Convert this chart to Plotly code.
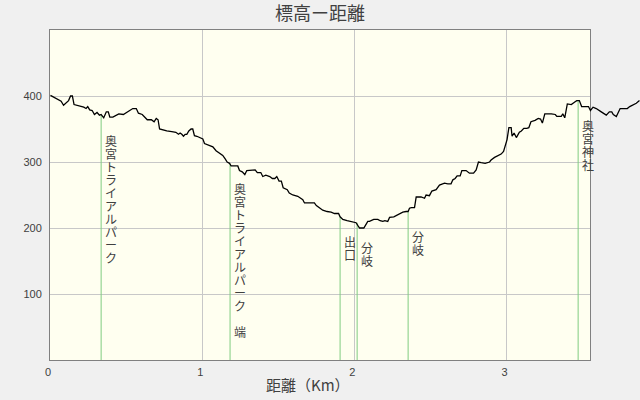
import plotly.graph_objects as go

# ---- data ----
distance_km = [0.003, 0.030, 0.051, 0.073, 0.089, 0.106, 0.122, 0.135, 0.147, 0.158,
               0.178, 0.196, 0.222, 0.237, 0.248, 0.261, 0.277, 0.292, 0.309, 0.325,
               0.336, 0.353, 0.370, 0.383, 0.393, 0.413, 0.432, 0.452, 0.482, 0.498,
               0.514, 0.531, 0.544, 0.567, 0.581, 0.606, 0.626, 0.639, 0.666, 0.684,
               0.698, 0.710, 0.720, 0.744, 0.767, 0.800, 0.827, 0.844, 0.855, 0.866,
               0.877, 0.888, 0.899, 0.912, 0.927, 0.938, 0.949, 0.965, 0.982, 1.004,
               1.015, 1.037, 1.070, 1.091, 1.114, 1.135, 1.150, 1.164, 1.180, 1.190,
               1.234, 1.245, 1.263, 1.280, 1.293, 1.348, 1.362, 1.385, 1.398, 1.418,
               1.444, 1.461, 1.477, 1.490, 1.505, 1.520, 1.532, 1.559, 1.572, 1.595,
               1.628, 1.645, 1.661, 1.672, 1.737, 1.750, 1.771, 1.792, 1.821, 1.847,
               1.869, 1.896, 1.906, 1.924, 1.952, 1.974, 1.989, 2.011, 2.022, 2.034,
               2.062, 2.077, 2.088, 2.099, 2.127, 2.154, 2.169, 2.187, 2.200, 2.219,
               2.231, 2.259, 2.274, 2.296, 2.318, 2.340, 2.353, 2.362, 2.374, 2.395,
               2.406, 2.438, 2.461, 2.471, 2.493, 2.509, 2.537, 2.559, 2.592, 2.614,
               2.635, 2.647, 2.662, 2.675, 2.695, 2.706, 2.734, 2.756, 2.783, 2.800,
               2.815, 2.833, 2.859, 2.888, 2.898, 2.921, 2.942, 2.964, 2.980, 2.990,
               3.003, 3.015, 3.030, 3.036, 3.049, 3.064, 3.084, 3.097, 3.113, 3.133,
               3.146, 3.160, 3.187, 3.208, 3.223, 3.235, 3.251, 3.294, 3.320, 3.330,
               3.359, 3.369, 3.382, 3.399, 3.425, 3.448, 3.461, 3.478, 3.493, 3.538,
               3.551, 3.568, 3.589, 3.622, 3.655, 3.675, 3.691, 3.701, 3.721, 3.746,
               3.793, 3.809, 3.827, 3.852, 3.873]

elevation_m = [401, 398, 395, 392, 386, 389, 393, 400, 400, 387,
               386, 385, 383, 381, 384, 379, 378, 372, 375, 371,
               372, 367, 376, 376, 368, 368, 370, 373, 372, 374,
               376, 379, 381, 381, 374, 372, 367, 364, 364, 361,
               366, 364, 350, 348, 347, 346, 345, 342, 344, 342,
               339, 342, 342, 347, 350, 350, 340, 339, 337, 335,
               328, 326, 323, 317, 313, 310, 305, 300, 298, 294,
               294, 287, 285, 281, 287, 288, 284, 284, 278, 280,
               278, 275, 275, 278, 271, 271, 261, 258, 253, 250,
               248, 245, 243, 238, 238, 234, 230, 227, 225, 224,
               222, 222, 217, 213, 211, 210, 210, 208, 204, 200,
               200, 205, 210, 210, 213, 213, 211, 210, 211, 210,
               216, 217, 219, 221, 224, 225, 225, 230, 231, 231,
               247, 247, 245, 250, 249, 256, 258, 265, 268, 267,
               267, 273, 275, 279, 279, 287, 287, 283, 283, 288,
               300, 299, 298, 300, 303, 307, 310, 312, 316, 326,
               334, 352, 352, 339, 344, 337, 345, 347, 351, 351,
               352, 361, 363, 366, 365, 359, 373, 373, 372, 369,
               369, 373, 367, 388, 387, 391, 393, 393, 384, 384,
               378, 383, 381, 376, 371, 376, 376, 372, 369, 381,
               381, 384, 386, 389, 393]

marker_km = [0.336, 1.183, 1.906, 2.018, 2.353, 3.470]
marker_elev = [370, 297, 217, 208, 225, 393]
marker_labels = ["奥宮トライアルパーク", "奥宮トライアルパーク　端", "出口", "分岐", "分岐", "奥宮神社"]

x_ticks = [0, 1, 2, 3]
y_ticks = [100, 200, 300, 400]

title_text = "標高ー距離"
x_title = "距離（Km）"

assert len(distance_km) == len(elevation_m)

# ---- layout constants ----
W, H = 640, 400
ML, MR, MT, MB = 50, 0, 30, 40
FRAME_X_MAX = 3.548       # km at right frame edge
FULL_X_MAX = 3.8765       # km at right figure edge (profile continues past frame)
Y_RANGE = [0, 500]
frame_domain = (590 - ML) / (W - ML - MR)

TEXT = "#404040"
CJK = "Noto Sans CJK JP"
NUM = "Liberation Sans"
CHAR_STEP = 13

fig = go.Figure()

# marker lines (green)
gx, gy = [], []
for d, e in zip(marker_km, marker_elev):
    gx += [d, d, None]
    gy += [0, e, None]
fig.add_trace(go.Scatter(x=gx, y=gy, mode="lines", xaxis="x2", yaxis="y2",
                         line=dict(color="#80CC80", width=1), hoverinfo="skip",
                         showlegend=False))

# elevation profile
fig.add_trace(go.Scatter(x=distance_km, y=elevation_m, mode="lines", xaxis="x2", yaxis="y2",
                         line=dict(color="#000000", width=1.3), showlegend=False))

# vertical labels, one character per annotation
annotations = []
for d, e, label in zip(marker_km, marker_elev, marker_labels):
    for j, ch in enumerate(label):
        if ch.strip() == "":
            continue
        annotations.append(dict(x=d, y=e, xref="x2", yref="y2", text=ch, showarrow=False,
                                xanchor="center", yanchor="top", xshift=10,
                                yshift=-(14 + CHAR_STEP * j),
                                font=dict(family=CJK, size=12, color=TEXT)))

annotations.append(dict(x=(308 - ML) / (W - ML - MR), y=(360 - 384) / (H - MT - MB),
                        xref="paper", yref="paper", text=x_title, showarrow=False,
                        xanchor="center", yanchor="middle",
                        font=dict(family=CJK, size=15, color=TEXT)))

fig.update_layout(
    width=W, height=H, autosize=False,
    margin=dict(l=ML, r=MR, t=MT, b=MB, pad=0),
    paper_bgcolor="#F0F0F0",
    plot_bgcolor="rgba(0,0,0,0)",
    title=dict(text=title_text, x=0.5, xref="container", xanchor="center",
               y=1 - 14 / H, yref="container", yanchor="middle",
               font=dict(family=CJK, size=18, color=TEXT)),
    xaxis=dict(domain=[0, frame_domain], range=[0, FRAME_X_MAX], tickvals=x_ticks,
               ticktext=[str(t) for t in x_ticks],
               showgrid=True, gridcolor="#C8C8C8", gridwidth=1, zeroline=False,
               showline=True, linecolor="#808080", linewidth=1, mirror=True,
               ticks="outside", ticklen=2, tickcolor="rgba(0,0,0,0)",
               ticklabelshift=-2,
               tickfont=dict(family=NUM, size=11, color=TEXT), fixedrange=True),
    yaxis=dict(domain=[0, 1], range=Y_RANGE, tickvals=y_ticks,
               showgrid=True, gridcolor="#C8C8C8", gridwidth=1, zeroline=False,
               showline=True, linecolor="#808080", linewidth=1, mirror=True,
               ticks="outside", ticklen=5, tickcolor="rgba(0,0,0,0)",
               tickfont=dict(family=NUM, size=11, color=TEXT), fixedrange=True),
    xaxis2=dict(domain=[0, 1], range=[0, FULL_X_MAX], anchor="y2", visible=False,
                showgrid=False, zeroline=False, fixedrange=True),
    yaxis2=dict(domain=[0, 1], range=Y_RANGE, anchor="x2", visible=False,
                showgrid=False, zeroline=False, fixedrange=True),
    shapes=[dict(type="rect", xref="x", yref="y", x0=0, x1=FRAME_X_MAX,
                 y0=Y_RANGE[0], y1=Y_RANGE[1], fillcolor="#FFFFF0",
                 line=dict(width=0), layer="below")],
    annotations=annotations,
    showlegend=False,
)

fig.write_html("out.html", config={"displayModeBar": False},
               post_script="document.body.style.margin='0';")
